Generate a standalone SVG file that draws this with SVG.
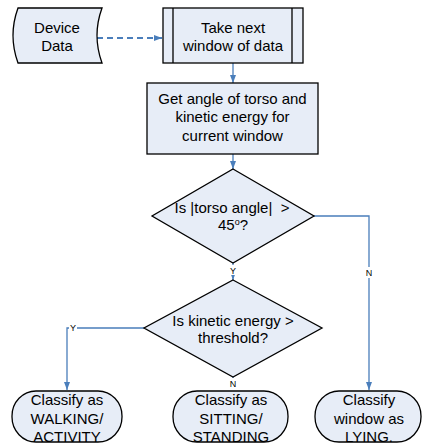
<svg xmlns="http://www.w3.org/2000/svg" width="422" height="444" viewBox="0 0 422 444">
<style>
.shape{fill:#e7edf7;stroke:#000;stroke-width:1.3}
.t{font-family:"Liberation Sans",Arial,sans-serif;font-size:15px;fill:#000;text-anchor:middle;white-space:pre}
.lbl{font-family:"Liberation Sans",Arial,sans-serif;font-size:9px;fill:#000;text-anchor:middle}
.c{fill:none;stroke:#4a7ebb;stroke-width:1.3}
.d{stroke-dasharray:6,4;stroke-width:2}
</style>
<defs>
<marker id="ah" markerUnits="userSpaceOnUse" markerWidth="8" markerHeight="8" viewBox="0 0 8 8" refX="8" refY="4" orient="auto">
<path d="M0,1 L8,4 L0,7 Z" fill="#4a7ebb"/>
</marker>
</defs>
<rect width="422" height="444" fill="#fff"/>
<g id="connectors">
<path class="c d" d="M97,38 H162" marker-end="url(#ah)"/>
<path class="c" d="M233,63 V83" marker-end="url(#ah)"/>
<path class="c" d="M233,154 V169" marker-end="url(#ah)"/>
<path class="c" d="M233,263 V280" marker-end="url(#ah)"/>
<path class="c" d="M314,216 H369 V390" marker-end="url(#ah)"/>
<path class="c" d="M144,328 H67 V390" marker-end="url(#ah)"/>
<path class="c" d="M233,377 V388"/>
<rect x="229" y="265" width="8" height="10" fill="#fff"/>
<text class="lbl" x="233" y="274">Y</text>
<rect x="365" y="267" width="9" height="11" fill="#fff"/>
<text class="lbl" x="369" y="276">N</text>
<rect x="69" y="323" width="8" height="10" fill="#fff"/>
<text class="lbl" x="73" y="331">Y</text>
<rect x="228" y="378" width="10" height="10" fill="#fff"/>
<text class="lbl" x="233" y="387">N</text>
</g>
<g id="device-data">
<path class="shape" d="M18,8 H102 Q92,35.5 102,63 H18 Q8,35.5 18,8 Z"/>
<text class="t" x="57" y="32.5">Device</text>
<text class="t" x="57" y="50.5">Data</text>
</g>
<g id="take-next">
<rect class="shape" x="163" y="8" width="140" height="55"/>
<path d="M173,8 V63 M292,8 V63" stroke="#000" stroke-width="1.3"/>
<text class="t" x="233" y="32.5">Take next</text>
<text class="t" x="233" y="50.5">window of data</text>
</g>
<g id="get-angle">
<rect class="shape" x="147" y="83" width="171" height="71"/>
<text class="t" x="232.5" y="103.5">Get angle of torso and</text>
<text class="t" x="232.5" y="122">kinetic energy for</text>
<text class="t" x="232.5" y="140.5">current window</text>
</g>
<g id="decision-angle">
<path class="shape" d="M233,169 L314,216 L233,263 L152,216 Z"/>
<text class="t" x="232" y="212.5">Is |torso angle|  &gt;</text>
<text class="t" x="233" y="230">45<tspan font-size="9" dy="-5">o</tspan><tspan dy="5">?</tspan></text>
</g>
<g id="decision-energy">
<path class="shape" d="M233,280 L322,328 L233,377 L144,328 Z"/>
<text class="t" x="233" y="325.5">Is kinetic energy &gt;</text>
<text class="t" x="233" y="342.5">threshold?</text>
</g>
<g id="walking">
<rect class="shape" x="12" y="391" width="110" height="51" rx="24" ry="25"/>
<text class="t" x="67" y="405">Classify as</text>
<text class="t" x="67" y="424">WALKING/</text>
<text class="t" x="67" y="442">ACTIVITY</text>
</g>
<g id="sitting">
<rect class="shape" x="173" y="391" width="115" height="51" rx="24" ry="25"/>
<text class="t" x="231" y="405">Classify as</text>
<text class="t" x="231" y="424">SITTING/</text>
<text class="t" x="231" y="442">STANDING</text>
</g>
<g id="lying">
<rect class="shape" x="315" y="391" width="106" height="51" rx="24" ry="25"/>
<text class="t" x="369" y="405">Classify</text>
<text class="t" x="369" y="424">window as</text>
<text class="t" x="369" y="442">LYING.</text>
</g>
</svg>
